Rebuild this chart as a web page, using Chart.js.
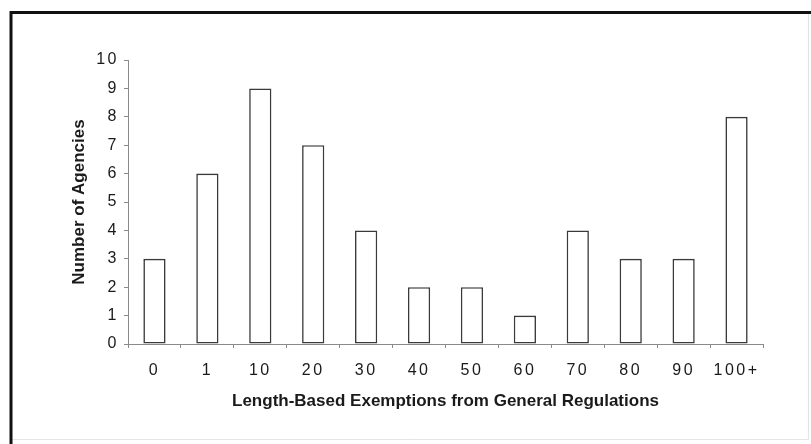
<!DOCTYPE html>
<html>
<head>
<meta charset="utf-8">
<script src="https://cdn.jsdelivr.net/npm/chart.js@4/dist/chart.umd.min.js"></script>
<style>
  html, body { margin: 0; padding: 0; background: #fff; }
  #wrap { width: 811px; height: 444px; position: relative; }
</style>
</head>
<body>
<div id="wrap"><canvas id="c"></canvas></div>
<script>
/* ─── Data ─── */
const CATEGORIES = ['0','1','10','20','30','40','50','60','70','80','90','100+'];
const AGENCIES   = [3, 6, 9, 7, 4, 2, 2, 1, 4, 3, 3, 8];
const Y_MIN = 0, Y_MAX = 10, Y_STEP = 1;

const X_TITLE = 'Length-Based Exemptions from General Regulations';
const Y_TITLE = 'Number of Agencies';

const FONT = "'Liberation Sans', Arial, Helvetica, sans-serif";
const AXIS = '#8a8a8a';
const INK  = '#1a1a1a';

/* frame around the figure + letter spacing for tick labels */
const framePlugin = {
  id: 'frame',
  beforeDraw(chart) {
    const { ctx, width, height } = chart;
    ctx.save();
    ctx.fillStyle = '#fff';
    ctx.fillRect(0, 0, width, height);
    ctx.strokeStyle = '#e4e4e4';
    ctx.lineWidth = 1;
    ctx.beginPath();
    ctx.moveTo(width - 2.5, 12); ctx.lineTo(width - 2.5, height - 4.5);
    ctx.lineTo(11, height - 4.5);
    ctx.stroke();
    ctx.strokeStyle = '#111';
    ctx.lineWidth = 3;
    ctx.beginPath();
    ctx.moveTo(11, height); ctx.lineTo(11, 12.5); ctx.lineTo(width, 12.5);
    ctx.stroke();
    ctx.restore();
  },
  afterDatasetsDraw(chart) { chart.ctx.letterSpacing = '2.5px'; },
  afterDraw(chart) { chart.ctx.letterSpacing = '0px'; },
};

new Chart(document.getElementById('c'), {
  type: 'bar',
  data: {
    labels: CATEGORIES,
    datasets: [{
      data: AGENCIES,
      backgroundColor: '#fff',
      borderColor: '#3a3a3a',
      borderWidth: 1.6,
      borderSkipped: false,
      categoryPercentage: 1,
      barPercentage: 0.42,
    }]
  },
  options: {
    responsive: true,
    maintainAspectRatio: false,
    animation: false,
    layout: { padding: { left: 60, top: 60, right: 48, bottom: 20 } },
    plugins: { legend: { display: false }, tooltip: { enabled: false } },
    scales: {
      x: {
        offset: true,
        border: { color: AXIS, width: 1 },
        grid: { display: true, drawOnChartArea: false, drawTicks: true, tickLength: 4, color: AXIS, offset: true },
        ticks: { z: 1, color: INK, padding: 13, maxRotation: 0, font: { family: FONT, size: 16 } },
        title: { display: true, text: X_TITLE, color: INK, padding: { top: 0, bottom: 12 },
                 font: { family: FONT, size: 17, weight: 'bold' } },
        afterFit(s) { s.height = 80; },
      },
      y: {
        min: Y_MIN, max: Y_MAX,
        border: { color: AXIS, width: 1 },
        grid: { display: true, drawOnChartArea: false, drawTicks: true, tickLength: 4, color: AXIS },
        ticks: { z: 1, stepSize: Y_STEP, color: INK, padding: 5, font: { family: FONT, size: 16 } },
        title: { display: true, text: Y_TITLE, color: INK, padding: { top: 9, bottom: 0 },
                 font: { family: FONT, size: 17, weight: 'bold' } },
        afterFit(s) { s.width = 68; },
      }
    }
  },
  plugins: [framePlugin]
});
</script>
</body>
</html>
